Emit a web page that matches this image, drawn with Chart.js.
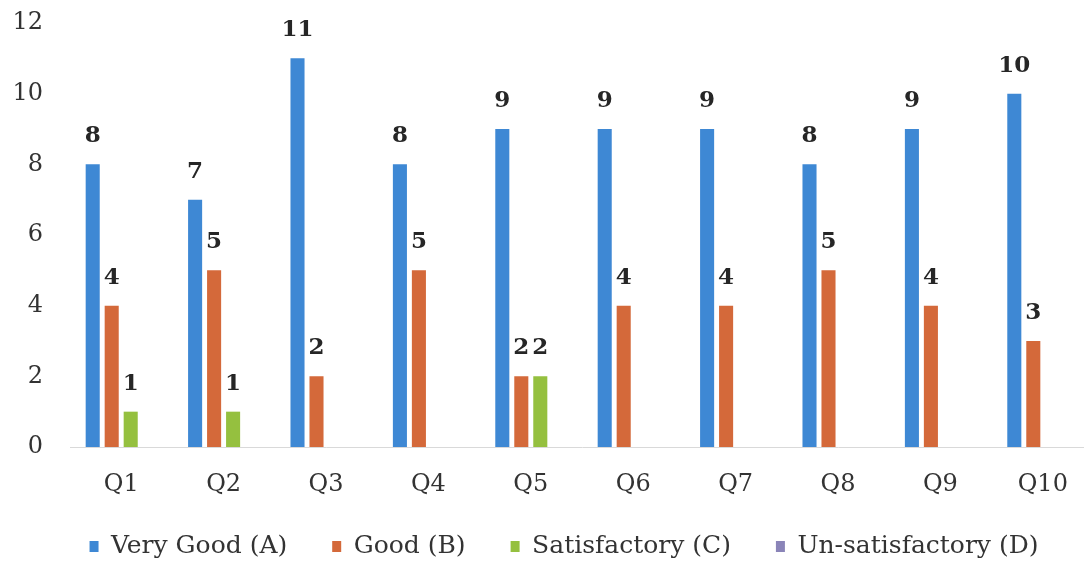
<!DOCTYPE html>
<html>
<head>
<meta charset="utf-8">
<script src="https://cdn.jsdelivr.net/npm/chart.js@4.4.0/dist/chart.umd.min.js"></script>
<style>
html,body{margin:0;padding:0;background:#fff;overflow:hidden;}
#wrap{position:relative;width:1094px;height:606px;margin-top:-19px;}
</style>
</head>
<body>
<div id="wrap"><canvas id="c"></canvas></div>
<script>
const categories = ['Q1','Q2','Q3','Q4','Q5','Q6','Q7','Q8','Q9','Q10'];
const veryGood = [8,7,11,8,9,9,9,8,9,10];
const good = [4,5,2,5,2,4,4,5,4,3];
const satisfactory = [1,1,0,0,2,0,0,0,0,0];
const unsatisfactory = [0,0,0,0,0,0,0,0,0,0];
const seriesNames = ['Very Good (A)','Good (B)','Satisfactory (C)','Un-satisfactory (D)'];
const yTicks = {min:0, max:12, step:2};

const colors = ['#3e88d4','#d4693a','#95c03f','#8a84b8'];
const FONT = '"DejaVu Serif", "Liberation Serif", serif';

const labelPlugin = {
  id: 'barLabels',
  afterLayout(chart) {
    const l = chart.legend;
    if (l) { l.left += 17; l.right += 17; l.top -= 18; l.bottom -= 18; }
  },
  afterDatasetsDraw(chart) {
    const ctx = chart.ctx;
    ctx.save();
    ctx.font = 'bold 23px ' + FONT;
    ctx.fillStyle = '#262626';
    ctx.textAlign = 'center';
    ctx.textBaseline = 'alphabetic';
    chart.data.datasets.forEach((ds, di) => {
      const meta = chart.getDatasetMeta(di);
      meta.data.forEach((bar, i) => {
        const v = ds.data[i];
        if (!v) return;
        ctx.fillText(String(v), bar.x, bar.y - 22);
      });
    });
    ctx.restore();
  }
};

new Chart(document.getElementById('c'), {
  type: 'bar',
  data: {
    labels: categories,
    datasets: [
      {label: seriesNames[0], data: veryGood, backgroundColor: colors[0]},
      {label: seriesNames[1], data: good, backgroundColor: colors[1]},
      {label: seriesNames[2], data: satisfactory, backgroundColor: colors[2]},
      {label: seriesNames[3], data: unsatisfactory, backgroundColor: colors[3]}
    ]
  },
  options: {
    responsive: true,
    maintainAspectRatio: false,
    animation: false,
    layout: {padding: {left: 0, top: 42, right: 0, bottom: 0}},
    datasets: {bar: {categoryPercentage: 0.742, barPercentage: 0.74, borderWidth: 0}},
    plugins: {
      tooltip: {enabled: false},
      legend: {
        position: 'bottom',
        labels: {
          font: {family: FONT, size: 25},
          color: '#333333',
          boxWidth: 9,
          boxHeight: 11,
          padding: 45
        }
      }
    },
    scales: {
      x: {
        grid: {display: true, drawOnChartArea: false, drawTicks: false},
        border: {display: true, color: '#d9d9d9', width: 1},
        ticks: {font: {family: FONT, size: 24}, color: '#333333', padding: 23},
        afterFit(axis) { axis.height = 60; }
      },
      y: {
        min: yTicks.min, max: yTicks.max,
        grid: {display: false},
        border: {display: false},
        ticks: {stepSize: yTicks.step, font: {family: FONT, size: 24}, color: '#333333', padding: 19},
        afterFit(axis) { axis.width = 70; }
      }
    }
  },
  plugins: [labelPlugin]
});
</script>
</body>
</html>
